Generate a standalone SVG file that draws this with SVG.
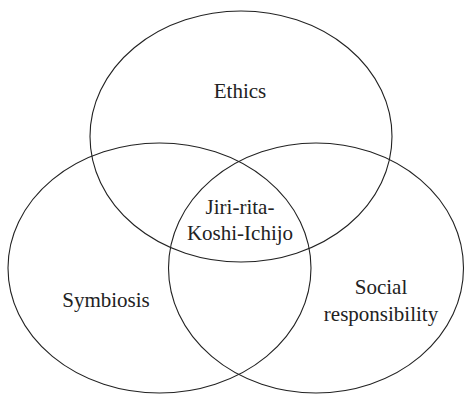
<svg xmlns="http://www.w3.org/2000/svg" width="468" height="394" viewBox="0 0 468 394">
<style>
.c{fill:none;stroke:#222;stroke-width:1.1}
text{font-family:"Liberation Serif","Times New Roman",serif;font-size:21px;fill:#222;text-anchor:middle}
</style>
<rect width="468" height="394" fill="#fff"/>
<g id="ethics"><ellipse class="c" cx="241" cy="136.5" rx="151" ry="125.5"/><text x="240" y="98">Ethics</text></g>
<g id="symbiosis"><ellipse class="c" cx="159.5" cy="268" rx="151.5" ry="125"/><text x="106" y="307">Symbiosis</text></g>
<g id="social"><ellipse class="c" cx="316" cy="268" rx="147.5" ry="125"/><text x="381" y="294">Social</text><text x="381" y="321">responsibility</text></g>
<g id="center"><text x="240" y="214">Jiri-rita-</text><text x="240" y="240">Koshi-Ichijo</text></g>
</svg>
